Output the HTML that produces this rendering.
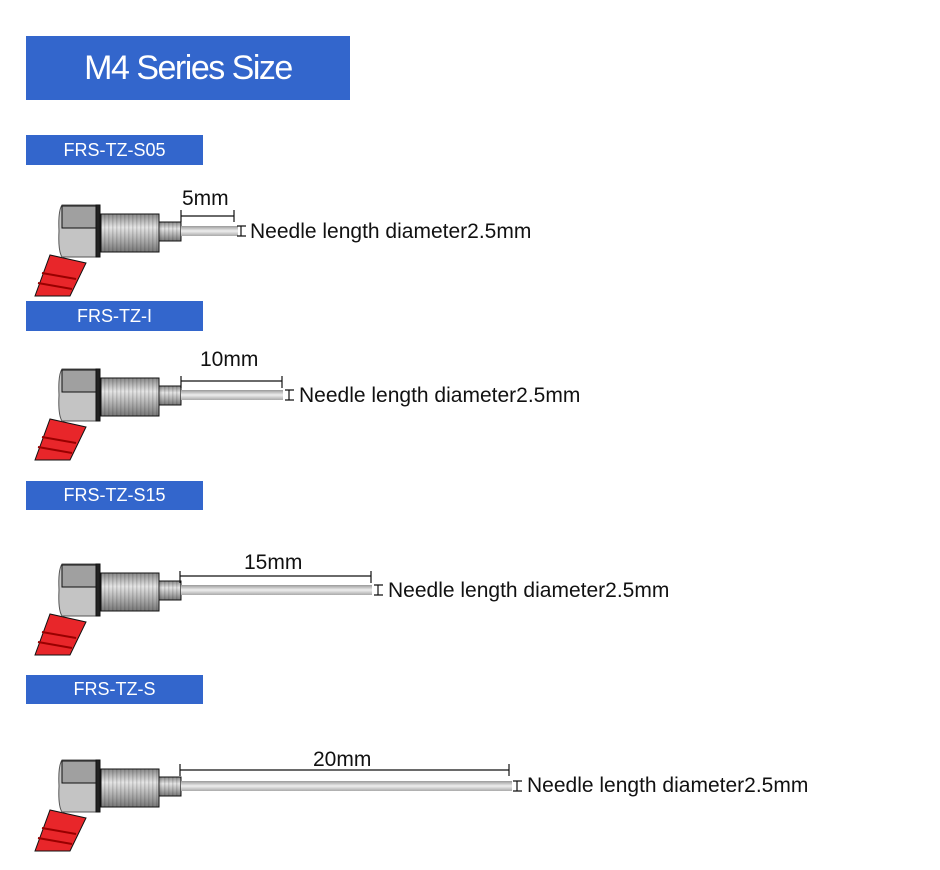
<!DOCTYPE html>
<html><head><meta charset="utf-8"><style>
body{margin:0;background:#fff;width:940px;height:870px;overflow:hidden;font-family:"Liberation Sans",sans-serif}
.t{position:absolute;background:#3366cc;color:#fff;text-align:center}
</style></head><body>
<div class="t" style="left:26px;top:36px;width:324px;height:64px;line-height:64px;font-size:34px;letter-spacing:-1.5px">M4 Series Size</div>
<div class="t" style="left:26px;top:135px;width:177px;height:30px;line-height:30px;font-size:18px">FRS-TZ-S05</div>
<div class="t" style="left:26px;top:301px;width:177px;height:30px;line-height:30px;font-size:18px">FRS-TZ-I</div>
<div class="t" style="left:26px;top:481px;width:177px;height:29px;line-height:29px;font-size:18px">FRS-TZ-S15</div>
<div class="t" style="left:26px;top:675px;width:177px;height:29px;line-height:29px;font-size:18px">FRS-TZ-S</div>
<svg width="940" height="870" style="position:absolute;left:0;top:0" font-family="Liberation Sans, sans-serif">
<defs>
<linearGradient id="th" x1="0" y1="0" x2="0" y2="1"><stop offset="0" stop-color="#888"/><stop offset=".35" stop-color="#e4e4e4"/><stop offset=".7" stop-color="#aaa"/><stop offset="1" stop-color="#777"/></linearGradient>
<linearGradient id="nd" x1="0" y1="0" x2="0" y2="1"><stop offset="0" stop-color="#999"/><stop offset=".5" stop-color="#eee"/><stop offset="1" stop-color="#aaa"/></linearGradient>
<pattern id="ts" width="4" height="40" patternUnits="userSpaceOnUse"><rect width="1.5" height="40" fill="#000" opacity=".12"/></pattern>
<g id="s">
<polygon points="35,65 50,24 86,32 70,65" fill="#e8262a"/>
<line x1="38" y1="52" x2="72" y2="58" stroke="#900" stroke-width="2"/>
<line x1="42" y1="42" x2="76" y2="48" stroke="#900" stroke-width="2"/>
<rect x="101" y="-17" width="58" height="38" fill="url(#th)"/>
<rect x="101" y="-17" width="58" height="38" fill="url(#ts)"/>
<rect x="159" y="-9" width="22" height="19" fill="url(#th)"/>
<rect x="159" y="-9" width="22" height="19" fill="url(#ts)"/>
<path d="M62,-26 H99 V26 H62 Q58,20 59,0 Q58,-20 62,-26Z" fill="#c4c4c4" stroke="#555" stroke-width="1"/>
<rect x="62" y="-25" width="36" height="22" fill="#a0a0a0"/>
<rect x="96" y="-26" width="4" height="52" fill="#222"/>
</g>
</defs>
<g font-size="21" fill="#111" stroke="#111">
<use href="#s" y="231"/>
<rect x="181" y="226" width="57" height="10" fill="url(#nd)" stroke="none"/>
<path d="M181,210V222M181,216H234M234,210V222M237,226H246M241,226V236M237,236H246" fill="none" stroke-width="1.2"/>
<text x="182" y="205" stroke="none">5mm</text>
<text x="250" y="238" stroke="none">Needle length diameter2.5mm</text>
<use href="#s" y="395"/>
<rect x="181" y="390" width="102" height="10" fill="url(#nd)" stroke="none"/>
<path d="M181,376V388M181,381H282M282,376V388M285,390H294M289,390V400M285,400H294" fill="none" stroke-width="1.2"/>
<text x="200" y="366" stroke="none">10mm</text>
<text x="299" y="402" stroke="none">Needle length diameter2.5mm</text>
<use href="#s" y="590"/>
<rect x="181" y="585" width="191" height="10" fill="url(#nd)" stroke="none"/>
<path d="M180,571V583M180,576H371M371,571V583M374,585H383M378,585V595M374,595H383" fill="none" stroke-width="1.2"/>
<text x="244" y="569" stroke="none">15mm</text>
<text x="388" y="597" stroke="none">Needle length diameter2.5mm</text>
<use href="#s" y="786"/>
<rect x="181" y="781" width="331" height="10" fill="url(#nd)" stroke="none"/>
<path d="M180,764V776M180,770H509M509,764V776M513,781H522M517,781V791M513,791H522" fill="none" stroke-width="1.2"/>
<text x="313" y="766" stroke="none">20mm</text>
<text x="527" y="792" stroke="none">Needle length diameter2.5mm</text>
</g>
</svg>
</body></html>
